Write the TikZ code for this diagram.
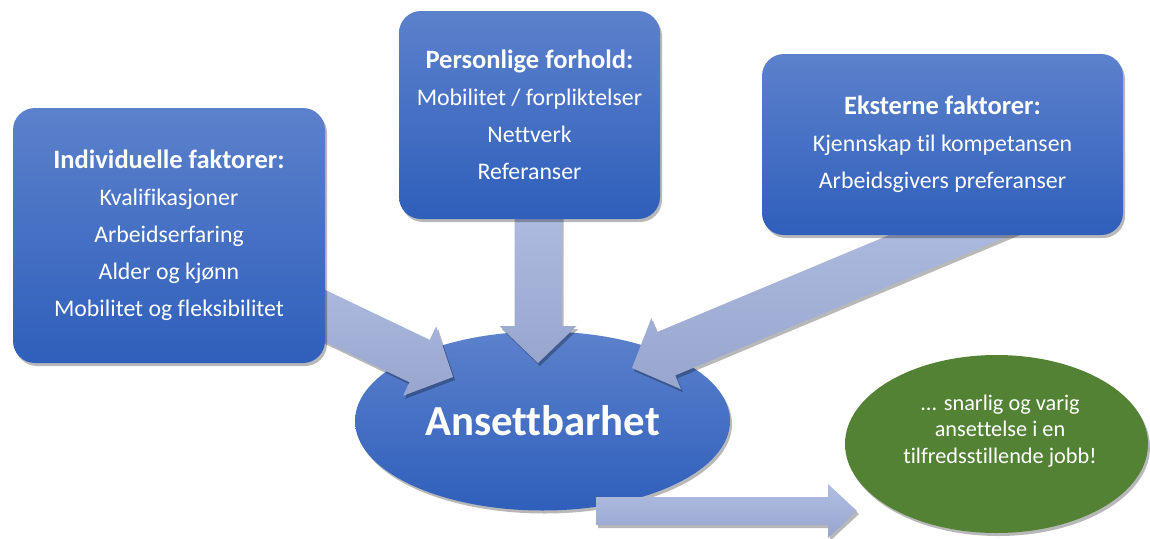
\documentclass[tikz,border=0pt]{standalone}
\usepackage{fontspec}
\setmainfont{Carlito}[Ligatures=NoCommon]
\usetikzlibrary{calc,shapes.geometric,shadows}
\definecolor{boxtop}{HTML}{5C81CC}
\definecolor{boxbot}{HTML}{2F5FBB}
\definecolor{arrtop}{HTML}{B0BEE2}
\definecolor{arrbot}{HTML}{98A6CE}
\definecolor{goalgreen}{HTML}{548235}
\newcommand\boxhead[1]{{\bfseries\fontsize{26.5}{37}\selectfont #1}}
\tikzset{
  softshadow/.style={drop shadow={shadow xshift=2pt, shadow yshift=-3pt, opacity=0.28, fill=black}},
  factorbox/.style={rounded corners=22pt, top color=boxtop, bottom color=boxbot, draw=none,
    text=white, align=center, font=\fontsize{23.8}{37}\selectfont, inner sep=0pt, softshadow},
  blockarrow/.style={top color=arrtop, bottom color=arrbot, draw=none, softshadow},
  centerell/.style={ellipse, top color=boxtop, bottom color=boxbot, draw=none, inner sep=0pt,
    text=white, font=\bfseries\fontsize{42.8}{50}\selectfont, softshadow},
  goalell/.style={ellipse, fill=goalgreen, draw=none, inner sep=0pt, softshadow},
  goaltxt/.style={text=white, align=center, font=\fontsize{22.3}{26.5}\selectfont, inner sep=0pt}
}
% #1 tail, #2 tip, #3 half shaft width, #4 half head width, #5 head length
\newcommand\blockarr[5]{%
  \path[blockarrow] ($(#1)!#3!90:(#2)$) -- ($(#2)!#5!(#1)!#3!90:(#2)$) --
    ($(#2)!#5!(#1)!#4!90:(#2)$) -- (#2) -- ($(#2)!#5!(#1)!#4!-90:(#2)$) --
    ($(#2)!#5!(#1)!#3!-90:(#2)$) -- ($(#1)!#3!-90:(#2)$) -- cycle;}
\begin{document}
\begin{tikzpicture}[x=1pt,y=-1pt]
\useasboundingbox (0,0) rectangle (1150,538);
% central ellipse
\node[centerell, minimum width=375pt, minimum height=179pt] (emp) at (542.5,421) {Ansettbarhet};
% goal ellipse
\node[goalell, minimum width=303pt, minimum height=178pt] (goal) at (996.5,444) {};
\node[goaltxt] (goaltext) at ($(goal.center)+(3.5,-13)$) {... snarlig og varig\\ansettelse i en\\tilfredsstillende jobb!};
% arrow end points
\coordinate (lTail) at (250,280);
\coordinate (lTip) at (453,377);
\coordinate (mTail) at (538,190);
\coordinate (mTip) at (538,363);
\coordinate (rTail) at (1010,210);
\coordinate (rTip) at (632,368);
\coordinate (bTail) at (596,511);
\coordinate (bTip) at (857,511);
\blockarr{lTail}{lTip}{23.5pt}{38.5pt}{37pt}
\blockarr{mTail}{mTip}{23.5pt}{38.5pt}{37pt}
\blockarr{rTail}{rTip}{23.5pt}{38.5pt}{37pt}
\blockarr{bTail}{bTip}{14pt}{27pt}{29pt}
% factor boxes
\node[factorbox, minimum width=312pt, minimum height=255pt] (indiv) at (169,235.5)
  {\boxhead{Individuelle faktorer:}\\Kvalifikasjoner\\Arbeidserfaring\\Alder og kjønn\\Mobilitet og fleksibilitet};
\node[factorbox, minimum width=261pt, minimum height=208pt] (pers) at (529.5,115)
  {\boxhead{Personlige forhold:}\\Mobilitet / forpliktelser\\Nettverk\\Referanser};
\node[factorbox, minimum width=361pt, minimum height=181pt] (ext) at (942.5,144.5)
  {\boxhead{Eksterne faktorer:}\\Kjennskap til kompetansen\\Arbeidsgivers preferanser};
\end{tikzpicture}
\end{document}
